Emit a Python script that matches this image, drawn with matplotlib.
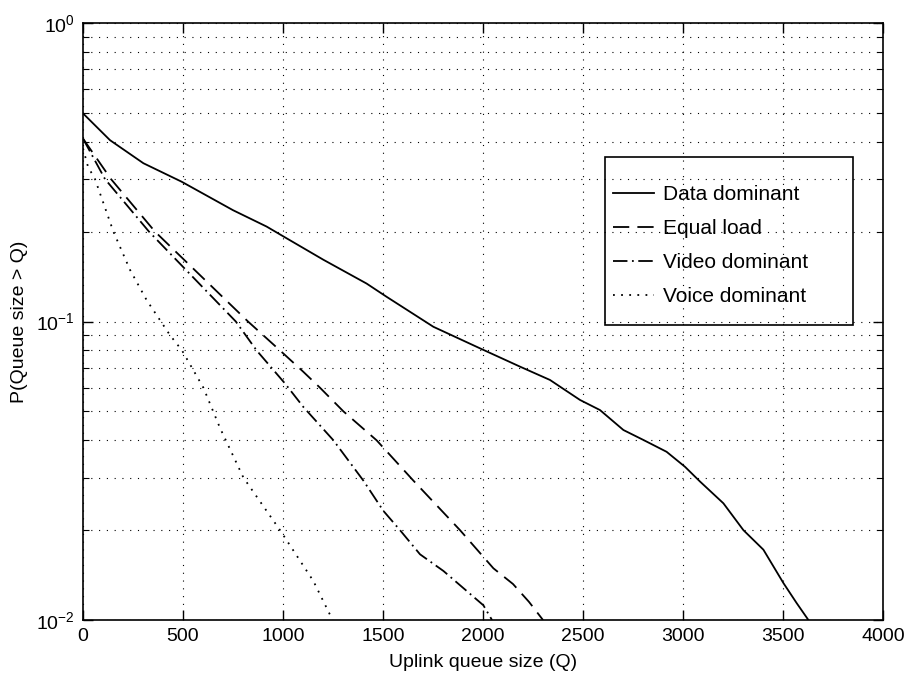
import numpy as np
import matplotlib
matplotlib.use("Agg")
import matplotlib.pyplot as plt
from matplotlib.patches import Rectangle

plt.rcParams['font.family'] = ['Liberation Sans', 'DejaVu Sans']
plt.rcParams['mathtext.fontset'] = 'custom'
plt.rcParams['mathtext.rm'] = 'Liberation Sans'

# values
data_q = [0, 135, 302, 493, 750, 918, 1018, 1202, 1418, 1518, 1752, 1985, 2185, 2335,
          2385, 2485, 2585, 2702, 2802, 2918, 3010, 3085, 3202, 3302, 3402, 3502, 3568, 3627]
data_p = [0.498, 0.405, 0.339, 0.294, 0.236, 0.208, 0.19, 0.161, 0.134, 0.121, 0.096, 0.0813,
          0.0706, 0.0637, 0.0605, 0.0546, 0.0505, 0.0433, 0.0401, 0.0366, 0.0326, 0.0291,
          0.0246, 0.02, 0.0172, 0.0133, 0.0114, 0.01]

equal_q = [0, 140, 360, 825, 985, 1100, 1185, 1302, 1468, 1652, 1885, 2052, 2150, 2230, 2300]
equal_p = [0.41, 0.3, 0.2, 0.1, 0.08, 0.068, 0.06, 0.05, 0.04, 0.0293, 0.02, 0.0149, 0.0132,
           0.0115, 0.01]

video_q = [0, 110, 330, 764, 868, 1010, 1102, 1252, 1402, 1502, 1585, 1685, 1802, 2002, 2045]
video_p = [0.41, 0.3, 0.2, 0.1, 0.08, 0.062, 0.0517, 0.04, 0.0293, 0.0232, 0.02, 0.0166,
           0.0146, 0.0112, 0.01]

voice_q = [0, 25, 60, 152, 235, 318, 435, 495, 602, 685, 802, 985, 1152, 1248]
voice_p = [0.38, 0.33, 0.3, 0.2, 0.149, 0.118, 0.09, 0.08, 0.06, 0.044, 0.03, 0.02, 0.0135, 0.01]

labels = ["Data dominant", "Equal load", "Video dominant", "Voice dominant"]

fig = plt.figure(figsize=(9.1, 6.73), dpi=100)
ax = fig.add_axes([83 / 910, 53 / 673, 800 / 910, 597 / 673])

ax.semilogy(data_q, data_p, color='black', lw=1.3, label=labels[0])
ax.semilogy(equal_q, equal_p, color='black', lw=1.3, dashes=(9, 4.5), label=labels[1])
ax.semilogy(video_q, video_p, color='black', lw=1.3, dashes=(8, 2.5, 1, 2.5), label=labels[2])
ax.semilogy(voice_q, voice_p, color='black', lw=1.3, dashes=(1, 3.5), label=labels[3])

ax.set_xlim(0, 4000)
ax.set_ylim(1e-2, 1e0)
ax.set_xticks(np.arange(0, 4001, 500))

ax.grid(True, which='major', color='black', linestyle=(0, (1, 6)), linewidth=0.8)
ax.grid(True, which='minor', axis='y', color='black', linestyle=(0, (1, 6)), linewidth=0.8)

ax.tick_params(which='both', direction='in', top=True, right=True, labelsize=14, pad=6)
ax.tick_params(which='major', length=7, width=1)
ax.tick_params(which='minor', length=4, width=0.8)
for s in ax.spines.values():
    s.set_linewidth(1.2)

ax.set_xlabel("Uplink queue size (Q)", fontsize=14, labelpad=6)
ax.set_ylabel("P(Queue size > Q)", fontsize=14, labelpad=6)

ax.add_patch(Rectangle((0.6525, 0.494), 0.31, 0.2815, transform=ax.transAxes,
                       fill=False, edgecolor='black', lw=1.2, zorder=4))
ax.legend(loc='upper left', bbox_to_anchor=(0.662, 0.728), frameon=False, fontsize=15,
          borderpad=0, borderaxespad=0, handlelength=2.0, handletextpad=0.4,
          labelspacing=0.72)

fig.savefig("out.png", dpi=100)
